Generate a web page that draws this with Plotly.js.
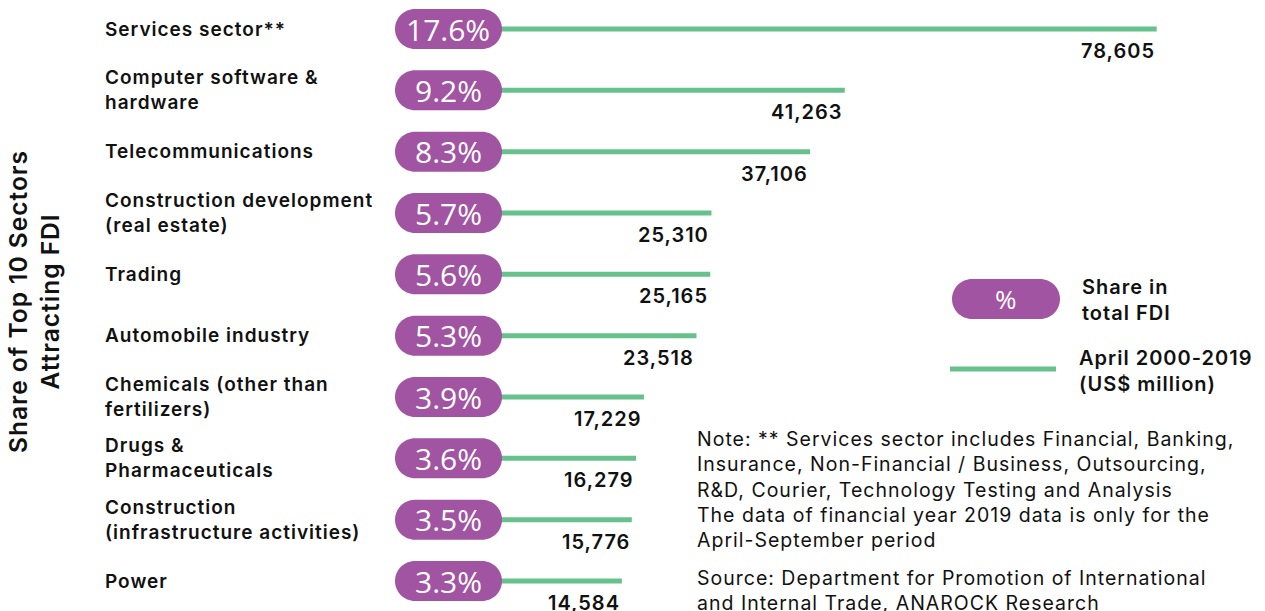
<!DOCTYPE html>
<html>
<head>
<meta charset="utf-8">
<script src="https://cdn.plot.ly/plotly-3.0.1.min.js"></script>
<style>
html,body{margin:0;padding:0;background:#fff;}
#chart{width:1265px;height:611px;}
text.annotation-text[style*="Inter"]{letter-spacing:1px;}
</style>
</head>
<body>
<div id="chart"></div>
<script>
// ---- data ----
const categories = [
  "Services sector**",
  "Computer software & hardware",
  "Telecommunications",
  "Construction development (real estate)",
  "Trading",
  "Automobile industry",
  "Chemicals (other than fertilizers)",
  "Drugs & Pharmaceuticals",
  "Construction (infrastructure activities)",
  "Power"
];
const categoryLabels = [
  "Services sector**",
  "Computer software &<br>hardware",
  "Telecommunications",
  "Construction development<br>(real estate)",
  "Trading",
  "Automobile industry",
  "Chemicals (other than<br>fertilizers)",
  "Drugs &<br>Pharmaceuticals",
  "Construction<br>(infrastructure activities)",
  "Power"
];
const fdiValues = [78605, 41263, 37106, 25310, 25165, 23518, 17229, 16279, 15776, 14584]; // US$ million
const sharePct = [17.6, 9.2, 8.3, 5.7, 5.6, 5.3, 3.9, 3.6, 3.5, 3.3];

const axisTitle = "Share of Top 10 Sectors<br>Attracting FDI";
const legendShareLabel = "Share in<br>total FDI";
const legendValueLabel = "April 2000-2019<br>(US$ million)";
const noteText = "Note: ** Services sector includes Financial, Banking,<br>Insurance, Non-Financial / Business, Outsourcing,<br>R&D, Courier, Technology Testing and Analysis<br>The data of financial year 2019 data is only for the<br>April-September period";
const sourceText = "Source: Department for Promotion of International<br>and Internal Trade, ANAROCK Research";

// ---- styles ----
const W = 1265, H = 611;
const PURPLE = "#A154A1";
const GREEN = "#66C18C";
const TEXT = "#111111";
const FONT = "Inter, Open Sans, sans-serif";
const PCT_FONT = "Open Sans, sans-serif";
const pxPerUnit = 0.008355;  // horizontal scale
const zeroPx = 500;          // pixel of value 0
const firstRowPx = 29, lastRowPx = 581;
const rowStep = (lastRowPx - firstRowPx) / (categories.length - 1);

function fmt(v){ return v.toLocaleString("en-US"); }
function pillPath(left, right, half){
  const r = half, k = 0.5523 * r;
  return `M ${left + r},${-half} L ${right - r},${-half} ` +
    `C ${right - r + k},${-half} ${right},${-k} ${right},0 ` +
    `C ${right},${k} ${right - r + k},${half} ${right - r},${half} ` +
    `L ${left + r},${half} ` +
    `C ${left + r - k},${half} ${left},${k} ${left},0 ` +
    `C ${left},${-k} ${left + r - k},${-half} ${left + r},${-half} Z`;
}

// line trace
const lx = [], ly = [];
categories.forEach((c, i) => { lx.push(0, fdiValues[i], null); ly.push(c, c, null); });
const lineTrace = {
  type: "scatter", mode: "lines", x: lx, y: ly,
  line: {color: GREEN, width: 5}, hoverinfo: "skip", showlegend: false
};

const shapes = [];
const annotations = [];

categories.forEach((c, i) => {
  shapes.push({
    type: "path", xref: "x", yref: "y", xsizemode: "pixel", ysizemode: "pixel",
    xanchor: 0, yanchor: c, path: pillPath(-105, 2, 20),
    fillcolor: PURPLE, line: {width: 0}, layer: "above"
  });
  annotations.push({
    x: 0, y: c, xref: "x", yref: "y", xshift: -52, yshift: 0,
    text: sharePct[i].toFixed(1) + "%", showarrow: false,
    xanchor: "center", yanchor: "middle",
    font: {family: PCT_FONT, size: 30, color: "#ffffff", weight: 400}
  });
  annotations.push({
    x: fdiValues[i], y: c, xref: "x", yref: "y", yshift: -22,
    text: fmt(fdiValues[i]), showarrow: false,
    xanchor: "right", yanchor: "middle",
    font: {family: FONT, size: 20, color: TEXT, weight: 600}
  });
  annotations.push({
    x: 103 / W, y: c, xref: "paper", yref: "y",
    text: categoryLabels[i], showarrow: false, align: "left",
    xanchor: "left", yanchor: "middle",
    font: {family: FONT, size: 19, color: TEXT, weight: 600}
  });
});

// axis title
annotations.push({
  x: 34 / W, y: 1 - 302 / H, xref: "paper", yref: "paper",
  text: axisTitle, showarrow: false, textangle: -90,
  xanchor: "center", yanchor: "middle", align: "center",
  font: {family: FONT, size: 24.5, color: TEXT, weight: 600}
});

// legend
shapes.push({
  type: "path", xref: "paper", yref: "paper", xsizemode: "pixel", ysizemode: "pixel",
  xanchor: 1006 / W, yanchor: 1 - 299 / H, path: pillPath(-54, 54, 20),
  fillcolor: PURPLE, line: {width: 0}
});
annotations.push({
  x: 1006 / W, y: 1 - 299 / H, xref: "paper", yref: "paper",
  text: "%", showarrow: false, xanchor: "center", yanchor: "middle",
  font: {family: PCT_FONT, size: 26, color: "#ffffff", weight: 400}
});
annotations.push({
  x: 1080 / W, y: 1 - 300 / H, xref: "paper", yref: "paper",
  text: legendShareLabel, showarrow: false, align: "left",
  xanchor: "left", yanchor: "middle",
  font: {family: FONT, size: 20, color: TEXT, weight: 600}
});
shapes.push({
  type: "line", xref: "paper", yref: "paper",
  x0: 950 / W, x1: 1056 / W, y0: 1 - 369 / H, y1: 1 - 369 / H,
  line: {color: GREEN, width: 5}
});
annotations.push({
  x: 1077 / W, y: 1 - 371 / H, xref: "paper", yref: "paper",
  text: legendValueLabel, showarrow: false, align: "left",
  xanchor: "left", yanchor: "middle",
  font: {family: FONT, size: 20, color: TEXT, weight: 600}
});

// notes
annotations.push({
  x: 695 / W, y: 1 - 489 / H, xref: "paper", yref: "paper",
  text: noteText, showarrow: false, align: "left",
  xanchor: "left", yanchor: "middle",
  font: {family: FONT, size: 19.5, color: TEXT, weight: 400}
});
annotations.push({
  x: 695 / W, y: 1 - 590 / H, xref: "paper", yref: "paper",
  text: sourceText, showarrow: false, align: "left",
  xanchor: "left", yanchor: "middle",
  font: {family: FONT, size: 19.5, color: TEXT, weight: 400}
});

const layout = {
  width: W, height: H,
  margin: {l: 0, r: 0, t: 0, b: 0, pad: 0},
  paper_bgcolor: "#ffffff", plot_bgcolor: "#ffffff",
  showlegend: false,
  xaxis: {
    range: [-zeroPx / pxPerUnit, (W - zeroPx) / pxPerUnit],
    visible: false, fixedrange: true
  },
  yaxis: {
    type: "category", categoryorder: "array", categoryarray: categories,
    range: [(H - firstRowPx) / rowStep, -firstRowPx / rowStep],
    visible: false, fixedrange: true
  },
  shapes: shapes,
  annotations: annotations
};

Plotly.newPlot("chart", [lineTrace], layout, {displayModeBar: false, staticPlot: true});
</script>
</body>
</html>
